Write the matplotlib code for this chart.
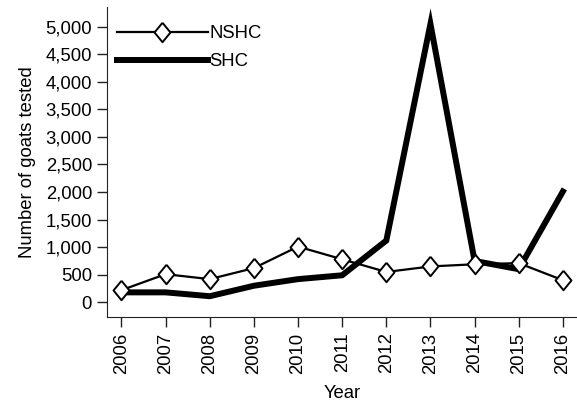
import numpy as np
import matplotlib.pyplot as plt
from matplotlib.ticker import FuncFormatter

plt.rcParams['font.family'] = ['Liberation Sans', 'DejaVu Sans']

years = [2006, 2007, 2008, 2009, 2010, 2011, 2012, 2013, 2014, 2015, 2016]
nshc = [220, 510, 420, 620, 1010, 780, 550, 650, 690, 710, 400]
shc = [180, 180, 110, 300, 420, 490, 1120, 5050, 750, 600, 2010]
y_ticks = list(range(0, 5001, 500))

# slightly tall open diamond
diamond = [(0, 1), (0.82, 0), (0, -1), (-0.82, 0), (0, 1)]

fig, ax = plt.subplots(figsize=(5.77, 4.03), dpi=100)
ax.plot(years, nshc, color='black', lw=1.6, marker=diamond, ms=14,
        mfc='white', mec='black', mew=1.4, label='NSHC', zorder=3)
ax.plot(years, shc, color='black', lw=4.3, solid_joinstyle='miter',
        label='SHC', zorder=2)

ax.set_xlim(2005.68, 2016.32)
ax.set_ylim(-270, 5360)
ax.set_xticks(years)
ax.set_xticklabels([str(y) for y in years], rotation=90)
ax.set_yticks(y_ticks)
ax.yaxis.set_major_formatter(FuncFormatter(lambda v, p: f'{int(v):,}'))
ax.tick_params(labelsize=13.3, length=7, width=1, pad=4, color='#222222')
for side in ('top', 'right'):
    ax.spines[side].set_visible(False)
for side in ('left', 'bottom'):
    ax.spines[side].set_color('#222222')

ax.set_xlabel('Year', fontsize=13.3, labelpad=8)
ax.set_ylabel('Number of goats tested', fontsize=13.3, labelpad=7)
ax.legend(loc='upper left', frameon=False, fontsize=13.3, handlelength=4.9,
          handletextpad=0.1, borderaxespad=0.0, labelspacing=0.58,
          bbox_to_anchor=(0.005, 0.964))

fig.subplots_adjust(left=0.186, right=1.0, top=0.983, bottom=0.213)
fig.savefig('out.png', dpi=100)
plt.close(fig)
